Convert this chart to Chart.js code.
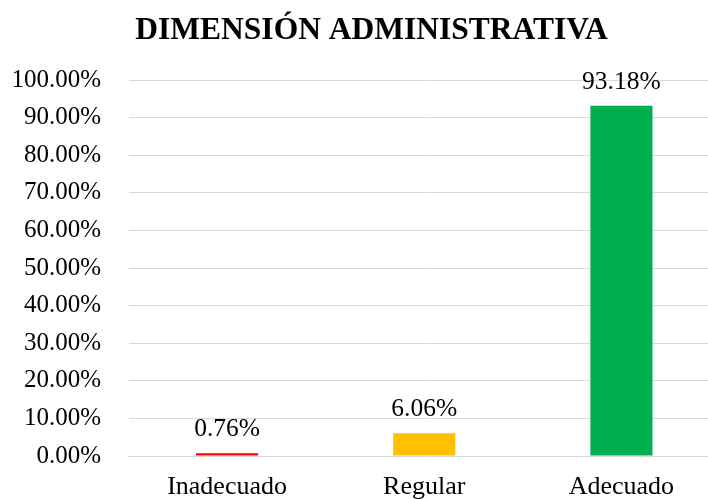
<!DOCTYPE html>
<html>
<head>
<meta charset="utf-8">
<script src="https://cdn.jsdelivr.net/npm/chart.js@4/dist/chart.umd.min.js"></script>
<style>
  html, body { margin: 0; padding: 0; background: #fff; overflow: hidden; }
  #wrap { width: 720px; height: 499px; position: relative; }
</style>
</head>
<body>
<div id="wrap"><canvas id="c"></canvas></div>
<script>
const chartTitle = 'DIMENSIÓN ADMINISTRATIVA';
const categories = ['Inadecuado', 'Regular', 'Adecuado'];
const values = [0.76, 6.06, 93.18];
const barColors = ['#FF0000', '#FFC000', '#00B050'];
const yTicks = [0, 10, 20, 30, 40, 50, 60, 70, 80, 90, 100];

const FONT = "'Liberation Serif', 'Times New Roman', serif";

const titlePlugin = {
  id: 'customTitle',
  afterDraw(chart) {
    const ctx = chart.ctx;
    ctx.save();
    ctx.font = 'bold 31.5px ' + FONT;
    ctx.fillStyle = '#000';
    ctx.textAlign = 'center';
    ctx.textBaseline = 'alphabetic';
    ctx.fillText(chartTitle, 371.5, 38.5);
    ctx.restore();
  }
};

const labelPlugin = {
  id: 'barLabels',
  afterDatasetsDraw(chart) {
    const ctx = chart.ctx;
    const meta = chart.getDatasetMeta(0);
    ctx.save();
    ctx.font = '25.5px ' + FONT;
    ctx.fillStyle = '#000';
    ctx.textAlign = 'center';
    ctx.textBaseline = 'alphabetic';
    meta.data.forEach((bar, i) => {
      ctx.fillText(values[i].toFixed(2) + '%', bar.x, bar.y - 17);
    });
    ctx.restore();
  }
};

new Chart(document.getElementById('c'), {
  type: 'bar',
  data: {
    labels: categories,
    datasets: [{
      data: values,
      backgroundColor: barColors,
      borderWidth: 0,
      barPercentage: 1,
      categoryPercentage: 0.315
    }]
  },
  options: {
    responsive: true,
    maintainAspectRatio: false,
    animation: false,
    layout: { padding: { left: 0, right: 0, top: 80, bottom: 0 } },
    plugins: {
      legend: { display: false },
      tooltip: { enabled: false },
      title: { display: false }
    },
    scales: {
      x: {
        grid: { display: false, drawTicks: false },
        border: { display: true, color: '#d9d9d9', width: 1 },
        ticks: {
          color: '#000',
          font: { family: FONT, size: 26 },
          padding: 15.5
        },
        afterFit(scale) { scale.height = 43; }
      },
      y: {
        min: 0,
        max: 100,
        afterBuildTicks(scale) { scale.ticks = yTicks.map(v => ({ value: v })); },
        grid: { color: '#d9d9d9', lineWidth: 1, drawTicks: false },
        border: { display: false },
        ticks: {
          color: '#000',
          font: { family: FONT, size: 25 },
          padding: 27.5,
          callback: v => v.toFixed(2) + '%'
        },
        afterFit(scale) { scale.width = 128.5; }
      }
    }
  },
  plugins: [labelPlugin, titlePlugin]
});
</script>
</body>
</html>
